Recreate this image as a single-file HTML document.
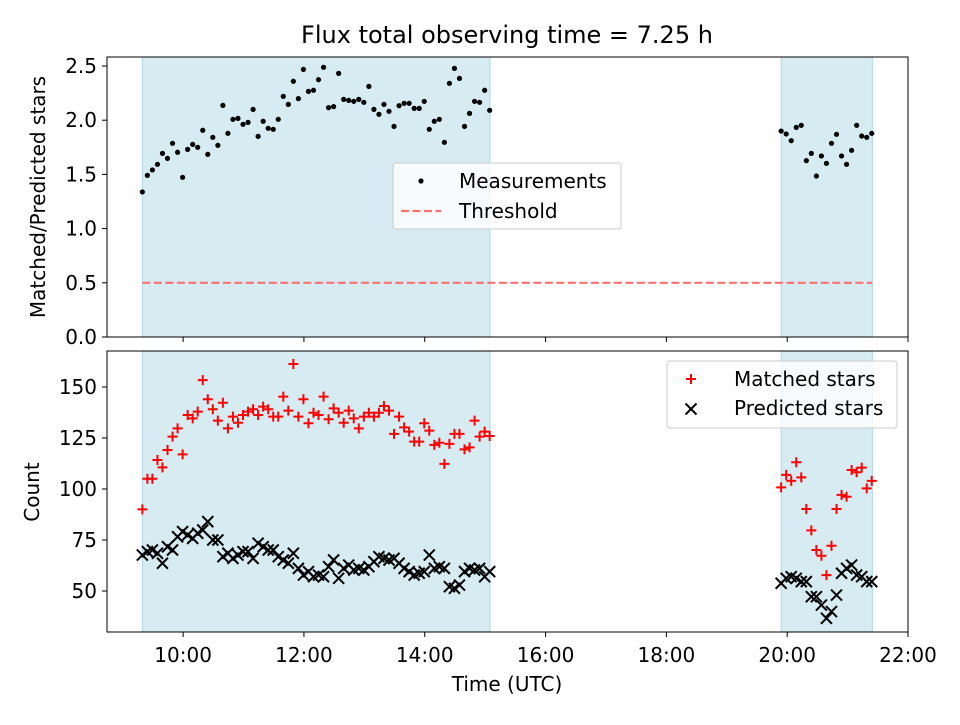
<!DOCTYPE html>
<html><head><meta charset="utf-8"><style>
body{margin:0;background:#fff}
svg text{font-family:"DejaVu Sans","Liberation Sans",sans-serif;fill:#000}
</style></head><body>
<svg id="chart" width="960" height="720" xmlns="http://www.w3.org/2000/svg">
<rect width="960" height="720" fill="#fff"/>
<text x="507" y="43" font-size="24" text-anchor="middle">Flux total observing time = 7.25 h</text>
<g id="topAxes"></g><g id="botAxes"></g>
</svg>
<script>
const shadedStart = [9.325, 19.90];
const shadedEnd = [15.08, 21.41];
const seg1Start = 9.325, seg2Start = 19.90;
const ratio1 = [1.338,1.491,1.541,1.593,1.694,1.648,1.787,1.704,1.473,1.731,1.777,1.750,1.907,1.685,1.842,1.768,2.137,1.879,2.008,2.017,1.962,1.980,2.100,1.851,1.990,1.925,1.916,2.008,2.220,2.146,2.359,2.199,2.469,2.266,2.276,2.374,2.488,2.116,2.125,2.432,2.192,2.183,2.174,2.192,2.165,2.312,2.100,2.054,2.146,2.082,1.943,2.134,2.156,2.156,2.109,2.109,2.174,1.916,1.990,2.008,1.796,2.340,2.478,2.386,1.943,2.063,2.174,2.165,2.276,2.091];
const ratio2 = [1.900,1.873,1.811,1.934,1.953,1.627,1.694,1.485,1.670,1.602,1.787,1.870,1.670,1.593,1.722,1.953,1.854,1.842,1.879];
const matched1 = [90,105,105,114.2,110.6,119.1,125.7,129.7,117.0,136.3,134.6,137.9,153.4,144.0,139.1,133.5,142.3,129.7,135.5,132.5,136.3,137.9,139.1,136.3,140.4,139.1,135.5,135.5,145.3,138.4,161.3,135.5,144.0,132.2,137.4,136.3,145.3,134.2,139.5,137.4,132.5,138.4,134.6,129.7,135.5,137.4,135.5,137.4,140.7,138.4,127.0,135.5,130.2,128.1,123.2,123.2,132.2,128.6,121.6,122.7,112.3,122.1,127.0,127.0,119.4,120.4,133.5,125.7,128.1,126.0];
const matched2 = [100.8,106.9,104.0,113.1,105.7,90.2,79.7,70.1,67.3,57.8,72.2,90.2,97.1,96.2,109.3,108.2,110.5,100.3,104.0];
const predicted1 = [67.6,69.3,70.1,68.5,63.6,71.7,70.1,76.6,79.1,77.5,75.8,78.3,79.9,84.0,75.0,75.0,66.8,68.5,66.0,67.6,69.3,69.3,66.0,73.4,71.7,70.1,70.1,66.8,65.2,63.6,68.5,61.1,57.8,59.5,57.0,57.8,57.0,61.9,65.2,56.2,61.1,62.7,60.3,61.1,60.3,61.9,64.4,66.8,66.0,65.2,66.0,63.6,61.1,59.5,57.8,58.7,59.5,67.6,61.1,61.9,61.1,52.1,51.3,52.9,59.5,61.1,60.3,61.1,57.0,59.5];
const predicted2 = [53.8,56.2,57.0,56.2,54.6,54.6,47.2,47.2,43.1,36.6,39.9,48.0,58.7,61.1,62.7,57.8,57.0,54.6,54.6];
const xTickVals = [10,12,14,16,18,20,22];
const xTickLabels = ["10:00","12:00","14:00","16:00","18:00","20:00","22:00"];
const topTicks = [0,0.5,1,1.5,2,2.5];
const botTicks = [50,75,100,125,150];
const stepH = 5/60;

const NS="http://www.w3.org/2000/svg";
const L=107,R=908,FS=20;
const X=h=>L+(h-8.74)/(22-8.74)*(R-L);
const Yt=v=>337-v*108.4;
const Yb=v=>591-(v-50)*2.04;
function mk(p,tag,a){const e=document.createElementNS(NS,tag);for(const k in a)e.setAttribute(k,a[k]);p.appendChild(e);return e;}
const gTop=document.getElementById('topAxes'), gBot=document.getElementById('botAxes');
function axes(g,y0,y1,name){
  for(let i=0;i<shadedStart.length;i++){
    const r=mk(g,'rect',{x:X(shadedStart[i]),y:y0,width:X(shadedEnd[i])-X(shadedStart[i]),height:y1-y0,fill:'#add8e6','fill-opacity':0.5,stroke:'#add8e6','stroke-width':1});
    
    
  }
}
function frame(g,y0,y1,name,labels){
  const f=mk(g,'rect',{x:L,y:y0,width:R-L,height:y1-y0,fill:'none',stroke:'#000','stroke-width':1});
  
  
  xTickVals.forEach((h,i)=>{
    mk(g,'line',{x1:X(h),x2:X(h),y1:y1,y2:y1+5,stroke:'#000'});
    if(labels){const t=mk(g,'text',{x:X(h),y:y1+30,'font-size':FS,'text-anchor':'middle'});t.textContent=xTickLabels[i];
      
      }
  });
}
function yticks(g,ticks,Y,fmt){
  ticks.forEach(v=>{mk(g,'line',{x1:L-5,x2:L,y1:Y(v),y2:Y(v),stroke:'#000'});
    const t=mk(g,'text',{x:L-10,y:Y(v)+7,'font-size':FS,'text-anchor':'end'});t.textContent=fmt(v);
    
    });
}
axes(gTop,57,337,'top');axes(gBot,351,632,'bottom');
const th=mk(gTop,'line',{x1:X(seg1Start),x2:X(shadedEnd[1]),y1:Yt(0.5),y2:Yt(0.5),stroke:'#ff7070','stroke-width':2.2,'stroke-dasharray':'8,3.5'});


function dots(arr,start){arr.forEach((v,i)=>{const c=mk(gTop,'circle',{cx:X(start+i*stepH),cy:Yt(v),r:2.6,fill:'#000'});
  
  });}
dots(ratio1,seg1Start);dots(ratio2,seg2Start);
function plus(arr,start){arr.forEach((v,i)=>{const x=X(start+i*stepH),y=Yb(v);
  const p=mk(gBot,'path',{d:`M${x-5} ${y}H${x+5}M${x} ${y-5}V${y+5}`,stroke:'#f00','stroke-width':2});
  
  });}
function cross(arr,start){arr.forEach((v,i)=>{const x=X(start+i*stepH),y=Yb(v);
  const p=mk(gBot,'path',{d:`M${x-5.5} ${y-5.5}L${x+5.5} ${y+5.5}M${x-5.5} ${y+5.5}L${x+5.5} ${y-5.5}`,stroke:'#000','stroke-width':2});
  
  });}
cross(predicted1,seg1Start);cross(predicted2,seg2Start);
plus(matched1,seg1Start);plus(matched2,seg2Start);
frame(gTop,57,337,'top',false);frame(gBot,351,632,'bottom',true);
yticks(gTop,topTicks,Yt,v=>v.toFixed(1));yticks(gBot,botTicks,Yb,v=>String(v));
function label(g,txt,x,y,rot,name){const t=mk(g,'text',{x:x,y:y,'font-size':FS,'text-anchor':'middle'});
  if(rot)t.setAttribute('transform',`rotate(-90 ${x} ${y})`);t.textContent=txt;
  
  }
label(gTop,'Matched/Predicted stars',45,197,true,'top-y-axis-title');
label(gBot,'Count',39,492,true,'bottom-y-axis-title');
label(gBot,'Time (UTC)',507,691,false,'x-axis-title');
function legend(g,x,y,w,h,name){const r=mk(g,'rect',{x:x,y:y,width:w,height:h,rx:3,fill:'#fff','fill-opacity':0.8,stroke:'#ccc'});
  
  }
legend(gTop,393,163,228,66,'top-legend');
mk(gTop,'circle',{cx:421,cy:181,r:2.6,fill:'#000'});
mk(gTop,'line',{x1:401,x2:441,y1:211,y2:211,stroke:'#ff7070','stroke-width':2.2,'stroke-dasharray':'8,3.5'});
let t1=mk(gTop,'text',{x:459,y:188,'font-size':FS});t1.textContent='Measurements';


let t2=mk(gTop,'text',{x:459,y:218,'font-size':FS});t2.textContent='Threshold';


legend(gBot,667,361,230,67,'bottom-legend');
mk(gBot,'path',{d:'M686 379H696M691 374V384',stroke:'#f00','stroke-width':2});
mk(gBot,'path',{d:'M685.5 403.5L696.5 414.5M685.5 414.5L696.5 403.5',stroke:'#000','stroke-width':2});
let t3=mk(gBot,'text',{x:734,y:386,'font-size':FS});t3.textContent='Matched stars';


let t4=mk(gBot,'text',{x:734,y:415,'font-size':FS});t4.textContent='Predicted stars';


</script>
</body></html>
